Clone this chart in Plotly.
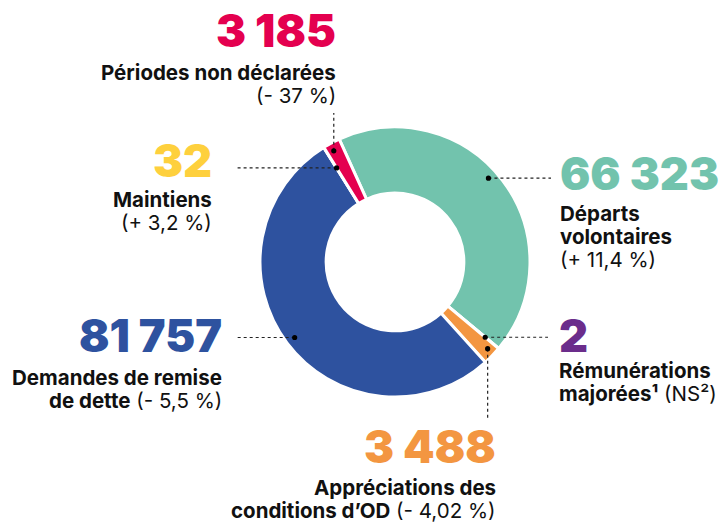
import math
import plotly.graph_objects as go

# ---------------- data ----------------
categories = [
    "Départs volontaires",
    "Rémunérations majorées",
    "Appréciations des conditions d'OD",
    "Demandes de remise de dette",
    "Maintiens",
    "Périodes non déclarées",
]
values = [66323, 2, 3488, 81757, 32, 3185]
value_labels = ["66 323", "2", "3 488", "81 757", "32", "3 185"]
label_lines = [
    ["<b>Départs</b>", "<b>volontaires</b>", "(+ 11,4 %)"],
    ["<b>Rémunérations</b>", "<b>majorées¹</b> (NS²)"],
    ["<b>Appréciations des</b>", "<b>conditions d’OD</b> (- 4,02 %)"],
    ["<b>Demandes de remise</b>", "<b>de dette</b> (- 5,5 %)"],
    ["<b>Maintiens</b>", "(+ 3,2 %)"],
    ["<b>Périodes non déclarées</b>", "(- 37 %)"],
]
colors = ["#72C3AD", "#6B2D8B", "#F39641", "#2E529F", "#FED03D", "#E4004F"]

# ---------------- layout settings (pixels) ----------------
W, H = 719, 524
CX, CY, R = 395, 262, 135
HOLE = 0.51
ROTATION = -24.4
FONT = "Inter"

# per category: text anchor side, text x, number y, first label line y,
# dot position (fraction within slice, radius factor), leader (kind, end)
text_cfg = [
    ("left", 558, 173, 213, 0.47, 0.93, "h", 551),
    ("left", 557, 335, 370, 0.5, 0.87, "h", 548),
    ("right", 498, 446, 487, 0.4, 0.94, "v", 420),
    ("right", 224, 335, 377, 0.5, 0.93, "h", 235),
    ("right", 214, 161, 200, 0.5, 0.82, "h", 235),
    ("right", 338, 30, 72, 0.4, 0.94, "v", 113),
]
LINE_STEP = 23


def px(x):
    return x / W


def py(y):
    return 1 - y / H


fig = go.Figure(
    go.Pie(
        labels=categories,
        values=values,
        hole=HOLE,
        sort=False,
        direction="clockwise",
        rotation=ROTATION,
        marker=dict(colors=colors, line=dict(color="white", width=3)),
        textinfo="none",
        hoverinfo="label+value",
        domain=dict(x=[px(CX - R), px(CX + R)], y=[py(CY + R), py(CY - R)]),
    )
)

annotations = []
shapes = []
total = sum(values)
cum = 0.0
for i, v in enumerate(values):
    side, tx, ny, ly0, frac, rf, kind, end = text_cfg[i]
    start = ROTATION + 360 * cum / total
    span = 360 * v / total
    ang = math.radians(start + frac * span)
    cum += v
    dx = CX + rf * R * math.sin(ang)
    dy = CY - rf * R * math.cos(ang)
    # leader line
    if kind == "h":
        shapes.append(dict(type="line", xref="paper", yref="paper",
                           x0=px(dx), y0=py(dy), x1=px(end), y1=py(dy),
                           line=dict(color="#222", width=1.2, dash="dot")))
    else:
        shapes.append(dict(type="line", xref="paper", yref="paper",
                           x0=px(dx), y0=py(dy), x1=px(dx), y1=py(end),
                           line=dict(color="#222", width=1.2, dash="dot")))
    # dot
    rr = 2.6
    shapes.append(dict(type="circle", xref="paper", yref="paper",
                       x0=px(dx - rr), x1=px(dx + rr), y0=py(dy + rr), y1=py(dy - rr),
                       fillcolor="black", line=dict(width=0)))
    # number
    annotations.append(dict(
        x=px(tx), y=py(ny), xref="paper", yref="paper",
        xanchor=side, yanchor="middle", showarrow=False,
        text=value_labels[i],
        font=dict(family=FONT, size=45, color=colors[i], weight=900),
    ))
    # label lines
    for j, line in enumerate(label_lines[i]):
        annotations.append(dict(
            x=px(tx), y=py(ly0 + j * LINE_STEP), xref="paper", yref="paper",
            xanchor=side, yanchor="middle", showarrow=False,
            text=line,
            font=dict(family=FONT, size=20.5, color="#111"),
        ))

fig.update_layout(
    width=W, height=H,
    margin=dict(l=0, r=0, t=0, b=0),
    paper_bgcolor="white",
    plot_bgcolor="white",
    showlegend=False,
    annotations=annotations,
    shapes=shapes,
)

fig.write_html(
    "out.html",
    config={"displayModeBar": False},
    post_script="document.body.style.margin='0';document.body.style.overflow='hidden';",
)
